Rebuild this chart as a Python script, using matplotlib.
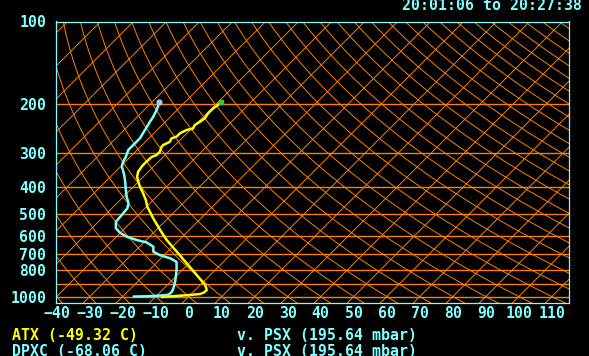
import numpy as np
import matplotlib
matplotlib.use('Agg')
import matplotlib.pyplot as plt
from matplotlib.ticker import NullLocator

# sounding data (pressure mbar, temperature C)
p_atx = [1004, 987, 979, 967, 947, 908, 871, 835, 757, 687, 623, 573, 520, 493, 471,
         446, 422, 399, 382, 367, 352, 337, 327, 319, 311, 306, 298, 285, 281, 274,
         266, 262, 255, 248, 245, 238, 231, 225, 216, 207, 201, 195.64]
t_atx = [-7.9, -0.1, 2.7, 3.4, 3.5, 1.5, -1.3, -4.1, -10.7, -17.2, -23.8, -28.8, -34.4, -37.3, -39.8,
         -42.2, -45.0, -48.0, -50.1, -51.9, -53.1, -53.6, -53.7, -53.6, -53.5, -52.6, -52.6, -53.6, -53.6, -52.6,
         -53.1, -52.1, -52.1, -51.1, -49.6, -50.1, -49.5, -49.1, -49.6, -49.6, -49.1, -49.32]

p_dpxc = [1000, 998, 992, 985, 963, 931, 886, 801, 748, 726, 707, 687, 659, 636, 623,
          606, 586, 564, 535, 505, 478, 458, 434, 410, 377, 357, 337, 324, 310, 293,
          281, 266, 248, 231, 222, 210, 201, 195.64]
t_dpxc = [-16.6, -12.8, -9.0, -6.7, -6.5, -7.2, -8.5, -11.7, -14.2, -17.2, -21.3, -24.3, -25.8, -29.1, -32.9,
          -36.9, -40.2, -42.8, -44.7, -45.0, -45.3, -46.5, -49.0, -51.3, -54.6, -56.9, -59.6, -60.7, -61.4, -62.7,
          -62.7, -62.7, -63.7, -64.7, -65.2, -66.2, -67.2, -68.06]

isobars = [200, 300, 400, 500, 600, 700, 800, 900, 1000]
p_ticks = [100, 200, 300, 400, 500, 600, 700, 800, 1000]
t_ticks = list(range(-40, 111, 10))
isotherms = list(range(-130, 111, 10))
thetas = list(range(-50, 351, 10))

title = '20:01:06 to 20:27:38'
line1 = ('ATX (-49.32 C)', 'v. PSX (195.64 mbar)')
line2 = ('DPXC (-68.06 C)', 'v. PSX (195.64 mbar)')

SKEW = 83.3
ORANGE = '#ff8000'
CYAN = '#80ffff'
YELLOW = '#ffff00'
FONT = dict(family='DejaVu Sans Mono', weight='bold', size=10.7)


def skx(t, p):
    return np.asarray(t) + SKEW * np.log10(1000.0 / np.asarray(p, dtype=float))


W, H = 589, 356
fig = plt.figure(figsize=(W / 100, H / 100), dpi=100, facecolor='black')
ax = fig.add_axes([55.7 / W, (H - 302.7) / H, (569.3 - 55.7) / W, (302.7 - 21.5) / H])
ax.set_facecolor('black')
ax.set_yscale('log')

# isotherms
pp = np.array([90.0, 1100.0])
for t0 in isotherms:
    ax.plot(skx(t0, pp), pp, color=ORANGE, lw=0.7)

# dry adiabats
pc = np.logspace(np.log10(90), np.log10(1100), 80)
for th in thetas:
    tc = (th + 273.15) * (pc / 1000.0) ** 0.2857 - 273.15
    ax.plot(skx(tc, pc), pc, color=ORANGE, lw=0.7)

for pb in isobars:
    ax.axhline(pb, color=ORANGE, lw=1.0)

ax.plot(skx(t_dpxc, p_dpxc), p_dpxc, color=CYAN, lw=1.8)
ax.plot(skx(t_atx, p_atx), p_atx, color=YELLOW, lw=1.8)
ax.plot(skx(t_dpxc[-1:], p_dpxc[-1:]), p_dpxc[-1:], 'o', color='#a0c8ff', ms=3.5)
ax.plot(skx(t_atx[-1:], p_atx[-1:]), p_atx[-1:], 's', color='#40c040', ms=2.5)

ax.set_xlim(-40.3, 115.3)
ax.set_ylim(1053, 100)
ax.yaxis.set_minor_locator(NullLocator())
ax.set_yticks(p_ticks)
ax.set_yticklabels([str(v) for v in p_ticks])
ax.set_xticks(t_ticks)
ax.set_xticklabels([str(v).replace('-', '\u2212') for v in t_ticks])
for lab in ax.get_xticklabels() + ax.get_yticklabels():
    lab.set_fontproperties(matplotlib.font_manager.FontProperties(**FONT))
    lab.set_color(CYAN)
ax.tick_params(axis='y', length=0, pad=6.8)
ax.tick_params(axis='x', length=0, pad=2.5)
for s in ax.spines.values():
    s.set_color(CYAN)
    s.set_linewidth(0.9)

fig.text(402 / W, 1 - 6 / H, title, color=CYAN, va='center', ha='left', **FONT)
fig.text(12 / W, 1 - 336 / H, line1[0], color=YELLOW, va='center', ha='left', **FONT)
fig.text(237 / W, 1 - 336 / H, line1[1], color=CYAN, va='center', ha='left', **FONT)
fig.text(12 / W, 1 - 352 / H, line2[0], color=CYAN, va='center', ha='left', **FONT)
fig.text(237 / W, 1 - 352 / H, line2[1], color=CYAN, va='center', ha='left', **FONT)

fig.savefig('out.png', dpi=100, facecolor='black')
